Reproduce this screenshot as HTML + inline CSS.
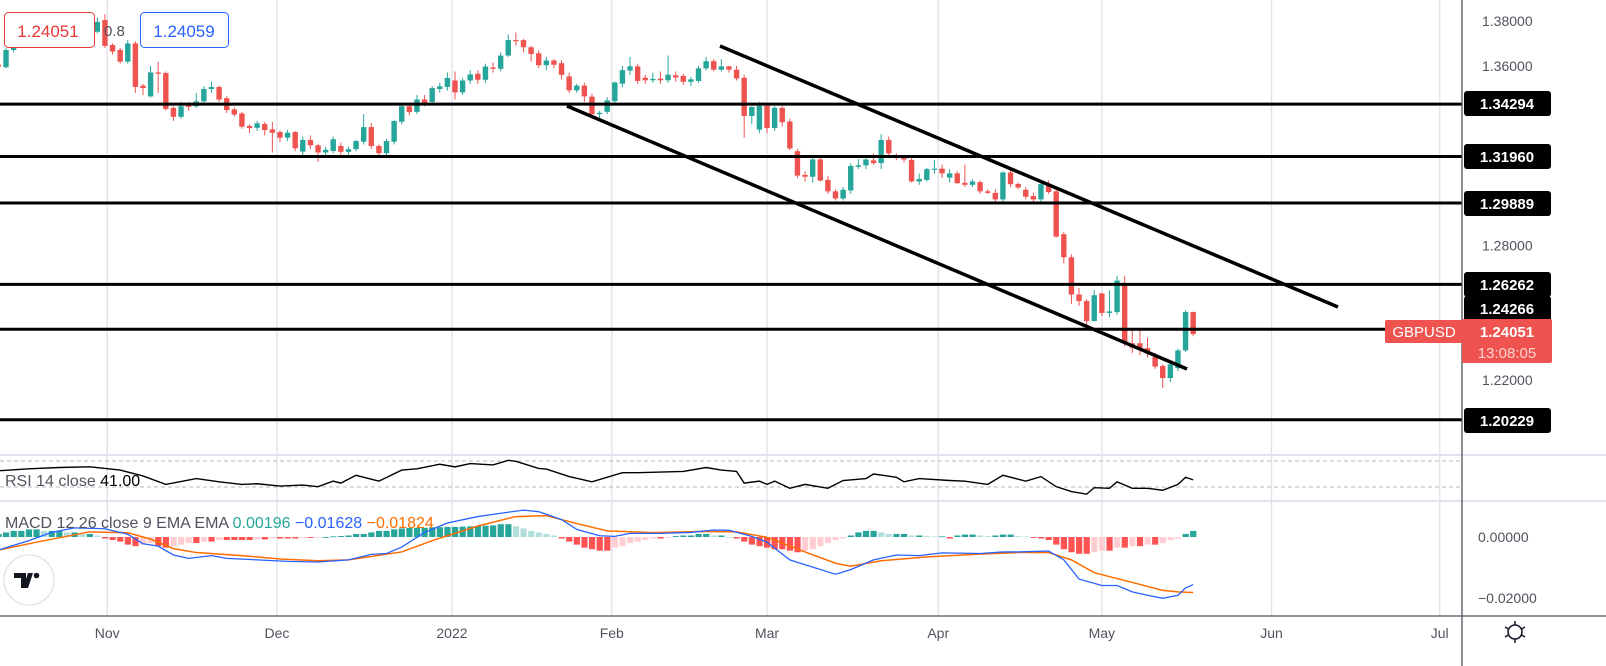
<!DOCTYPE html>
<html><head><meta charset="utf-8"><style>
html,body{margin:0;padding:0;background:#fff;}
svg{display:block;font-family:"Liberation Sans",sans-serif;}
</style></head><body>
<svg id="chart" width="1606" height="666" viewBox="0 0 1606 666" xmlns="http://www.w3.org/2000/svg">
<defs><clipPath id="priceClip"><rect x="0" y="0" width="1462" height="454"/></clipPath>
<clipPath id="macdClip"><rect x="0" y="501" width="1462" height="114"/></clipPath></defs>
<g id="grid"></g>
<g id="candles" clip-path="url(#priceClip)"></g>
<g id="levels"></g>
<g id="rsi"></g>
<g id="macd" clip-path="url(#macdClip)"></g>
<g id="axes"></g>
</svg>
<script>
const opens=[1.3605,1.3594,1.3671,1.3686,1.3700,1.3715,1.3745,1.3760,1.3740,1.3770,1.3785,1.3765,1.3740,1.3752,1.3804,1.3693,1.3671,1.3619,1.3700,1.3512,1.3464,1.3571,1.3568,1.3413,1.3373,1.3423,1.3420,1.3442,1.3497,1.3506,1.3456,1.3406,1.3388,1.3332,1.3324,1.3341,1.3317,1.3305,1.3280,1.3305,1.3218,1.3270,1.3246,1.3214,1.3221,1.3243,1.3217,1.3229,1.3262,1.3327,1.3243,1.3211,1.3262,1.3351,1.3420,1.3395,1.3450,1.3439,1.3497,1.3506,1.3535,1.3482,1.3535,1.3565,1.3538,1.3593,1.3587,1.3646,1.3715,1.3715,1.3683,1.3656,1.3603,1.3624,1.3612,1.3553,1.3491,1.3512,1.3463,1.3385,1.3395,1.3443,1.3521,1.3579,1.3598,1.3547,1.3536,1.3543,1.3536,1.3558,1.3555,1.3529,1.3533,1.3589,1.3621,1.3583,1.3598,1.3583,1.3547,1.3377,1.3316,1.3422,1.3323,1.3413,1.3352,1.3220,1.3114,1.3106,1.3183,1.3092,1.3041,1.3009,1.3045,1.3150,1.3157,1.3179,1.3167,1.3270,1.3197,1.3190,1.3181,1.3085,1.3092,1.3138,1.3142,1.3102,1.3121,1.3079,1.3070,1.3082,1.3041,1.3034,1.3005,1.3125,1.3074,1.3048,1.3020,1.3005,1.3066,1.3041,1.2850,1.2747,1.2581,1.2552,1.2463,1.2586,1.2499,1.2503,1.2633,1.2364,1.2364,1.2342,1.2303,1.2263,1.2209,1.2253,1.2332,1.2503];
const closes=[1.3597,1.3671,1.3686,1.3700,1.3715,1.3745,1.3760,1.3740,1.3770,1.3785,1.3765,1.3740,1.3752,1.3796,1.3689,1.3664,1.3619,1.3700,1.3506,1.3501,1.3571,1.3565,1.3408,1.3373,1.3420,1.3417,1.3442,1.3497,1.3506,1.3450,1.3403,1.3383,1.3329,1.3323,1.3344,1.3314,1.3302,1.3280,1.3302,1.3233,1.3270,1.3246,1.3214,1.3226,1.3273,1.3217,1.3229,1.3265,1.3327,1.3243,1.3211,1.3265,1.3354,1.3420,1.3394,1.3450,1.3432,1.3501,1.3509,1.3546,1.3482,1.3535,1.3562,1.3538,1.3597,1.3587,1.3646,1.3715,1.3712,1.3683,1.3653,1.3603,1.3624,1.3605,1.3560,1.3491,1.3512,1.3464,1.3385,1.3391,1.3446,1.3526,1.3581,1.3598,1.3533,1.3536,1.3542,1.3536,1.3561,1.3548,1.3529,1.3540,1.3589,1.3621,1.3583,1.3598,1.3583,1.3544,1.3377,1.3417,1.3422,1.3323,1.3413,1.3349,1.3232,1.3111,1.3106,1.3183,1.3089,1.3041,1.3009,1.3048,1.3154,1.3157,1.3183,1.3167,1.3270,1.3210,1.3189,1.3183,1.3085,1.3096,1.3140,1.3142,1.3121,1.3121,1.3077,1.3070,1.3085,1.3041,1.3034,1.3005,1.3125,1.3073,1.3058,1.3017,1.3005,1.3073,1.3038,1.2839,1.2747,1.2581,1.2552,1.2463,1.2578,1.2499,1.2506,1.2643,1.2364,1.2344,1.2340,1.2318,1.2260,1.2209,1.2270,1.2332,1.2503,1.2405];
const highs=[1.3649,1.3680,1.3700,1.3712,1.3730,1.3760,1.3775,1.3770,1.3785,1.3800,1.3795,1.3775,1.3765,1.3815,1.3830,1.3700,1.3680,1.3715,1.3710,1.3520,1.3600,1.3619,1.3575,1.3420,1.3440,1.3440,1.3479,1.3510,1.3530,1.3512,1.3465,1.3415,1.3395,1.3340,1.3355,1.3350,1.3350,1.3312,1.3315,1.3310,1.3285,1.3290,1.3252,1.3240,1.3285,1.3258,1.3240,1.3270,1.3385,1.3345,1.3250,1.3275,1.3360,1.3430,1.3430,1.3470,1.3470,1.3510,1.3525,1.3570,1.3575,1.3545,1.3580,1.3580,1.3610,1.3615,1.3660,1.3740,1.3749,1.3720,1.3690,1.3670,1.3640,1.3630,1.3625,1.3570,1.3520,1.3525,1.3475,1.3400,1.3460,1.3530,1.3600,1.3640,1.3610,1.3560,1.3570,1.3575,1.3646,1.3575,1.3565,1.3550,1.3600,1.3640,1.3630,1.3630,1.3600,1.3600,1.3560,1.3420,1.3440,1.3430,1.3420,1.3420,1.3365,1.3230,1.3130,1.3195,1.3190,1.3110,1.3050,1.3060,1.3165,1.3185,1.3190,1.3210,1.3295,1.3285,1.3210,1.3200,1.3190,1.3120,1.3145,1.3180,1.3160,1.3140,1.3130,1.3160,1.3095,1.3090,1.3050,1.3050,1.3130,1.3140,1.3080,1.3060,1.3035,1.3090,1.3090,1.3050,1.2860,1.2760,1.2610,1.2560,1.2600,1.2590,1.2600,1.2665,1.2665,1.2420,1.2420,1.2390,1.2320,1.2270,1.2280,1.2340,1.2510,1.2505];
const lows=[1.3583,1.3590,1.3660,1.3680,1.3690,1.3705,1.3735,1.3730,1.3735,1.3760,1.3755,1.3730,1.3735,1.3745,1.3680,1.3650,1.3610,1.3610,1.3480,1.3470,1.3460,1.3479,1.3400,1.3355,1.3365,1.3400,1.3413,1.3435,1.3480,1.3440,1.3390,1.3375,1.3320,1.3300,1.3310,1.3290,1.3214,1.3260,1.3265,1.3220,1.3200,1.3230,1.3172,1.3190,1.3210,1.3200,1.3200,1.3220,1.3250,1.3230,1.3190,1.3200,1.3250,1.3340,1.3380,1.3385,1.3420,1.3425,1.3480,1.3490,1.3450,1.3470,1.3520,1.3520,1.3525,1.3570,1.3575,1.3640,1.3690,1.3660,1.3620,1.3590,1.3580,1.3590,1.3540,1.3480,1.3480,1.3440,1.3370,1.3365,1.3385,1.3430,1.3505,1.3560,1.3520,1.3520,1.3525,1.3520,1.3525,1.3530,1.3515,1.3510,1.3525,1.3580,1.3575,1.3575,1.3570,1.3535,1.3280,1.3340,1.3300,1.3300,1.3310,1.3330,1.3225,1.3100,1.3085,1.3080,1.3085,1.3030,1.3000,1.3000,1.3030,1.3140,1.3140,1.3160,1.3140,1.3200,1.3180,1.3170,1.3080,1.3070,1.3085,1.3120,1.3100,1.3080,1.3075,1.3060,1.3060,1.3030,1.3030,1.2995,1.2990,1.3060,1.3050,1.3005,1.2990,1.2995,1.3030,1.2835,1.2720,1.2540,1.2530,1.2440,1.2460,1.2485,1.2480,1.2490,1.2350,1.2320,1.2310,1.2300,1.2250,1.2165,1.2190,1.2240,1.2325,1.2395];
const levelPrices=[1.34294,1.31960,1.29889,1.26262,1.24266,1.20229];
const levelLabels=["1.34294","1.31960","1.29889","1.26262","1.24266","1.20229"];
const priceTicks=[1.38,1.36,1.28,1.22];
const priceTickLabels=["1.38000","1.36000","1.28000","1.22000"];
const monthLabels=["Nov","Dec","2022","Feb","Mar","Apr","May","Jun","Jul"];
const monthIdx=[14.3,36.6,59.6,80.6,101,123.5,145,167.3,189.4];
const rsiIdx=[0,4,8,12,16,19,22,26,29,32,34,37,40,42,44,45,47,50,53,55,58,60,62,65,67,68,71,72,75,78,82,84,87,90,93,95,97,98,100,101,102,104,106,109,111,114,115,118,119,121,125,127,130,132,135,137,139,141,143,144,146,147,149,151,153,155,156,157];
const rsiVal=[55,58,60,61,56,47,34,43,38,34,35,31.5,33,30.5,39,36,48,39,56,58,65,61,66,64,71,69.5,58.6,57.6,46,38,52,52,53,54,60,56,54,36,39,34,39,28,34,28,40,43,50,45,38,43,40,39,34,48,39,46,30.5,23,19,29,28,38,28,28,25,34,45,41];
const macdIdx=[0,4,7,10,14,17,19,21,23,25,28,30,34,38,42,46,49,51,53,56,59,63,66,69,71,74,76,79,81,83,87,91,94,96,99,101,104,106,110,112,115,118,121,124,129,132,134,138,140,142,145,147,149,151,153,155,156,157];
const macdVal=[-4.3,-1.2,1.5,3.0,2.7,0.9,-2.2,-3.0,-5.9,-7.0,-6.1,-7.0,-7.5,-8.0,-8.2,-7.5,-5.7,-5.4,-3.3,1.5,4.6,6.7,7.8,8.8,8.3,5.7,2.5,0.4,0.2,1.2,1.2,1.5,2.3,2.2,0.2,-1.7,-7.5,-9.1,-12.2,-10.7,-7.5,-5.9,-6.1,-5.2,-5.4,-4.9,-4.9,-4.6,-7.5,-13.8,-15.9,-15.9,-18.0,-19.1,-20.1,-19.1,-16.7,-15.6];
const sigIdx=[0,5,12,17,20,23,26,32,37,42,46,53,57,63,68,72,76,80,86,92,97,101,106,110,112,116,122,129,134,138,141,144,149,153,155,157];
const sigVal=[-4.3,-1.7,1.7,1.4,-0.7,-3.8,-5.1,-6.1,-7.2,-7.8,-7.5,-4.9,-1.2,3.6,6.7,7.0,4.4,2.0,1.45,1.8,1.7,-0.1,-4.9,-8.6,-9.6,-7.8,-6.5,-5.6,-5.1,-5.1,-7.5,-11.7,-14.9,-17.5,-18.0,-18.2];
const hist=[1,1.5,2,2,2.5,2.5,2,2,2,1.5,1.5,1,1,0.5,-0.5,-1,-1.5,-2.5,-3,-2.5,-2,-3,-3.5,-3,-2.5,-2,-2,-1.5,-1.5,-1,-1,-1,-1,-1,-0.8,-0.8,-0.5,-0.5,-0.5,-0.5,-0.3,-0.3,-0.2,0,0.2,0.3,0.5,1,1,1.5,2,2,2.5,2.8,3,3,3,3.2,3.2,3.3,3.3,3.4,3.5,3.6,3.7,3.8,4.2,4.2,3.5,2.8,2,1.5,1,0.5,-0.5,-1.5,-2.5,-3.5,-4,-4.5,-4.5,-3.5,-3,-2,-1.5,-1,-0.5,-0.5,-0.3,0.3,0.5,0.5,1,1,0.5,0.5,0,-0.5,-1.5,-2.5,-3,-3.5,-4,-4,-4.5,-5,-4.5,-4,-3,-2,-1,-0.5,0.5,1.5,2,2,1.5,1,1,1,0.5,0.5,0.3,0.2,0.2,-0.5,0.5,0.8,0.8,0.5,0.3,0.5,0.8,0.8,0.3,0.2,-0.3,-0.5,-1,-2.5,-4,-5,-5.5,-5.5,-5,-4.5,-4.5,-3.5,-3.5,-3,-3,-2.5,-2.5,-2,-1,-0.5,1,2];

const NS='http://www.w3.org/2000/svg';
const xOf=i=>455+(i-60)*7.61;
const pY=p=>21+(1.38-p)*2244;
const rY=v=>487-(v-30)*0.65;
const mY=v=>537-v*3.05;
function mk(parent,tag,attrs,text){const e=document.createElementNS(NS,tag);for(const k in attrs)e.setAttribute(k,attrs[k]);if(text!==undefined)e.textContent=text;parent.appendChild(e);return e;}
const G=id=>document.getElementById(id);

const grid=G('grid');
monthIdx.forEach((mi,k)=>{const l=mk(grid,'line',{x1:xOf(mi),x2:xOf(mi),y1:0,y2:616,stroke:'#dfe1e8','stroke-width':1.3});

});
[455,501].forEach(y=>{const l=mk(grid,'line',{x1:0,x2:1606,y1:y,y2:y,stroke:'#e0e3eb','stroke-width':2});

});
[461,487].forEach(y=>{const l=mk(grid,'line',{x1:0,x2:1462,y1:y,y2:y,stroke:'#b8b8b8','stroke-width':1,'stroke-dasharray':'4,3'});

});

const cg=G('candles');
closes.forEach((c,i)=>{const o=opens[i],up=c>=o,col=up?'#26a69a':'#ef5350',x=xOf(i);
const w=mk(cg,'line',{x1:x,x2:x,y1:pY(highs[i]),y2:pY(lows[i]),stroke:col,'stroke-width':1});


const t=pY(Math.max(o,c)),b=pY(Math.min(o,c));
const r=mk(cg,'rect',{x:x-2.7,y:t,width:5.4,height:Math.max(1.2,b-t),fill:col});

});

const lg=G('levels');
levelPrices.forEach(p=>{const l=mk(lg,'line',{x1:0,x2:1462,y1:pY(p),y2:pY(p),stroke:'#000','stroke-width':3});

});
const t1=mk(lg,'line',{x1:720,y1:46,x2:1338,y2:307,stroke:'#000','stroke-width':3.5});


const t2=mk(lg,'line',{x1:567,y1:106,x2:1187,y2:369,stroke:'#000','stroke-width':3.5});



const rg=G('rsi');
const rp=mk(rg,'polyline',{points:rsiIdx.map((i,k)=>xOf(i)+','+rY(rsiVal[k])).join(' '),fill:'none',stroke:'#000','stroke-width':1.4});



const mg=G('macd');
hist.forEach((h,i)=>{const prev=i>0?hist[i-1]:0;let col;
if(h>=0)col=h>=prev?'#26a69a':'#b2dfdb';else col=h<=prev?'#ff5252':'#ffcdd2';
const y0=mY(0),y1=mY(h);
const r=mk(mg,'rect',{x:xOf(i)-3,y:Math.min(y0,y1),width:6.2,height:Math.max(0.8,Math.abs(y1-y0)),fill:col});

});
const sl=mk(mg,'polyline',{points:sigIdx.map((i,k)=>xOf(i)+','+mY(sigVal[k])).join(' '),fill:'none',stroke:'#ff6d00','stroke-width':1.5});


const ml=mk(mg,'polyline',{points:macdIdx.map((i,k)=>xOf(i)+','+mY(macdVal[k])).join(' '),fill:'none',stroke:'#2962ff','stroke-width':1.3});



const ag=G('axes');
mk(ag,'line',{x1:1462,x2:1462,y1:0,y2:666,stroke:'#50535e','stroke-width':1.3});
mk(ag,'line',{x1:0,x2:1606,y1:616,y2:616,stroke:'#50535e','stroke-width':1.3});
priceTicks.forEach((p,k)=>{const t=mk(ag,'text',{x:1482,y:pY(p)+5,'font-size':14,fill:'#50535e'},priceTickLabels[k]);

});
const macdTicks=[0,-20],macdTickLabels=["0.00000","\u22120.02000"];
macdTicks.forEach((v,k)=>{const t=mk(ag,'text',{x:1478,y:mY(v)+5,'font-size':14,fill:'#50535e'},macdTickLabels[k]);

});
const labelYs=[103,156,203,284,308,420];
levelLabels.forEach((s,k)=>{const r=mk(ag,'rect',{x:1464,y:labelYs[k]-12,width:87,height:25,rx:3,fill:'#000'});


mk(ag,'text',{x:1507,y:labelYs[k]+6,'font-size':15,'font-weight':'bold',fill:'#fff','text-anchor':'middle'},s);});
monthLabels.forEach((m,k)=>{const t=mk(ag,'text',{x:xOf(monthIdx[k]),y:638,'font-size':14,fill:'#50535e','text-anchor':'middle'},m);

});
</script>
<script>
(function(){const svg=document.getElementById('chart');const NS='http://www.w3.org/2000/svg';
function add(html){const g=document.createElementNS(NS,'g');g.innerHTML=html;svg.appendChild(g);return g;}
add(`<g>
<rect x="1385" y="320" width="78" height="23" rx="2" fill="#ef5350"/>
<text x="1424" y="337" font-size="15" fill="#fff" text-anchor="middle">GBPUSD</text>
<rect x="1462" y="319" width="90" height="44" rx="2" fill="#ef5350"/>
<text x="1507" y="337" font-size="15" font-weight="bold" fill="#fff" text-anchor="middle">1.24051</text>
<text x="1507" y="358" font-size="15" fill="#fbd5d4" text-anchor="middle">13:08:05</text></g>
<g><rect x="4.5" y="12.5" width="90" height="35" rx="4" fill="#fff" stroke="#e53935"/>
<text x="48" y="37" font-size="17" fill="#e53935" text-anchor="middle">1.24051</text></g>
<text x="104" y="36" font-size="15" fill="#50535e">0.8</text>
<g><rect x="140.5" y="12.5" width="88" height="35" rx="4" fill="#fff" stroke="#2962ff"/>
<text x="184" y="37" font-size="17" fill="#2962ff" text-anchor="middle">1.24059</text></g>
<text x="5" y="486" font-size="16" fill="#50535e">RSI 14 close <tspan fill="#000">41.00</tspan></text>
<text x="5" y="528" font-size="16" fill="#50535e">MACD 12 26 close 9 EMA EMA <tspan fill="#26a69a">0.00196</tspan> <tspan fill="#2962ff">−0.01628</tspan> <tspan fill="#ff6d00">−0.01824</tspan></text>
<g><circle cx="29" cy="580" r="25" fill="#fff" stroke="#e6e6e6" stroke-width="1.5"/>
<path d="M14 573h12v15h-5v-10h-7z M28 573h5l-5 15h-5z" fill="#131722"/><circle cx="36.5" cy="575.5" r="2.8" fill="#131722"/></g>
<g fill="none" stroke="#131722" stroke-width="1.5"><circle cx="1515" cy="632" r="7"/><line x1="1515" y1="621" x2="1515" y2="625"/><line x1="1515" y1="639" x2="1515" y2="643"/><line x1="1505" y1="627" x2="1508.5" y2="629"/><line x1="1521.5" y1="635" x2="1525" y2="637"/><line x1="1505" y1="637" x2="1508.5" y2="635"/><line x1="1521.5" y1="629" x2="1525" y2="627"/></g>`);
})();
</script>
</body></html>
